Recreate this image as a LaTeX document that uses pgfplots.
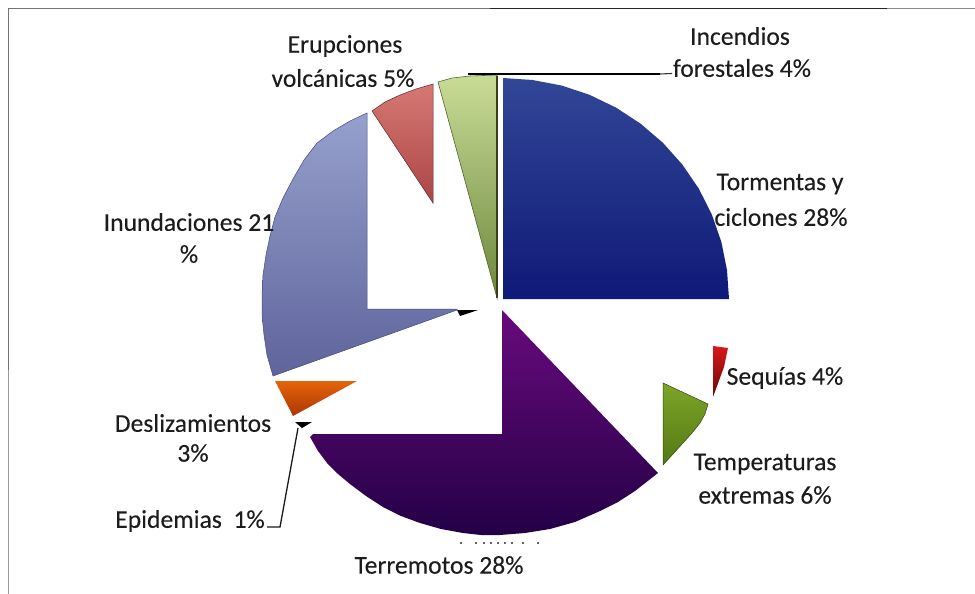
\documentclass[border=0pt]{standalone}
\usepackage{pgfplots}
\pgfplotsset{compat=1.18}
\usepackage{fontspec}
\setmainfont[FakeBold=0.15]{Carlito}
\definecolor{txt}{HTML}{1C1C1C}
\begin{document}
\begin{tikzpicture}
\useasboundingbox (0,0) rectangle (975bp,594bp);
\begin{axis}[
  at={(0,0)},anchor=south west,
  width=975bp,height=594bp,scale only axis,
  y dir=reverse,
  xmin=0,xmax=975,ymin=0,ymax=594,
  axis lines=none,
  clip=false,
]
% frame
\addplot[draw=black!55,line width=1.6bp] coordinates {(8.5,370) (8.5,8.5) (490,8.5)};
\addplot[draw=black!40,line width=0.9bp] coordinates {(8.5,370) (8.5,594)};
\addplot[draw=black!85,line width=1.2bp] coordinates {(490,8.5) (887,8.5)};
\addplot[draw=black!45,line width=1.2bp] coordinates {(887,8.5) (975,8.5)};
% Tormentas y ciclones
\addplot[draw=none,top color={rgb,255:red,50;green,70;blue,150},middle color={rgb,255:red,30;green,45;blue,135},bottom color={rgb,255:red,15;green,25;blue,120}] coordinates {
(503,78) (532.5,80) (561.5,85.5) (589.5,94.8) (616,107.6) (640.6,123.7) (662.8,142.7) (682.2,164.4) (698.7,188.5) (711.8,214.4) (721.3,241.8) (727,270.2) (729,299) (503,299)} -- cycle;
% Incendios forestales
\addplot[draw={rgb,255:red,80;green,100;blue,40},line width=0.6bp,top color={rgb,255:red,200;green,220;blue,150},middle color={rgb,255:red,165;green,190;blue,105},bottom color={rgb,255:red,110;green,135;blue,60}] coordinates {
(497,298) (438,82) (452,78) (470,76) (497,75)} -- cycle;
\addplot[draw={rgb,255:red,60;green,60;blue,30},line width=1.5bp] coordinates {(497,76) (497,298)};
% Erupciones
\addplot[draw={rgb,255:red,90;green,40;blue,40},line width=0.5bp,top color={rgb,255:red,215;green,120;blue,115},bottom color={rgb,255:red,170;green,70;blue,70}] coordinates {
(433,203) (372,111) (385,102) (400,95) (416,89) (433,84)} -- cycle;
% Inundaciones
\addplot[draw={rgb,255:red,70;green,75;blue,120},line width=0.5bp,top color={rgb,255:red,150;green,160;blue,205},bottom color={rgb,255:red,95;green,100;blue,155}] coordinates {
(367,113) (350,121) (333,131) (317,143) (304,160) (293,179) (283,198) (275,217) (270,236) (266,255) (263,275) (262,295) (262,315) (264,335) (267,355) (273,376) (457,310) (457,309) (367,309)} -- cycle;
\addplot[fill=black,draw=none] coordinates {(457,310) (478,310) (460,316)} -- cycle;
% Deslizamientos
\addplot[draw=none,top color={rgb,255:red,230;green,100;blue,10},bottom color={rgb,255:red,170;green,55;blue,5}] coordinates {
(275,381) (357,381) (293,416)} -- cycle;
% Epidemias
\addplot[fill=black,draw=none] coordinates {(295,422) (312,422) (302,428)} -- cycle;
\addplot[draw=black!90,line width=1.3bp] coordinates {(298,428) (280,527) (267,527)};
% Terremotos
\addplot[draw=none,top color={rgb,255:red,105;green,10;blue,125},middle color={rgb,255:red,65;green,5;blue,100},bottom color={rgb,255:red,35;green,0;blue,70}] coordinates {
(502,310) (502,434) (313,434) (310,437) (318,451) (327,463) (338,474) (350,484) (366,496) (383,507) (401,516) (420,523) (441,529) (463,533) (481,535) (500,535) (525,533) (550,529) (575,522) (600,511) (618,502) (635,491) (658,473)} -- cycle;
\addplot[only marks,mark=*,mark size=0.7bp,black] coordinates {(461,543) (476,543) (484,543) (491,543) (498,543) (505,543) (512,543) (523,543) (538,543)};
% Temperaturas
\addplot[draw={rgb,255:red,50;green,70;blue,10},line width=0.5bp,top color={rgb,255:red,125;green,165;blue,40},bottom color={rgb,255:red,85;green,120;blue,20}] coordinates {
(663,383) (708,404) (705,414) (700,423) (692,433) (683,443) (673,454) (663,465)} -- cycle;
% Sequias
\addplot[draw=none,top color={rgb,255:red,215;green,25;blue,25},bottom color={rgb,255:red,110;green,5;blue,5}] coordinates {
(713,346) (728,348) (724,367) (713,397)} -- cycle;
% leader
\addplot[draw=black,line width=1.8bp] coordinates {(468,74) (660,74)};
\addplot[draw=black!80,line width=1.1bp] coordinates {(660,74) (672,73.5)};
% labels
\begin{scope}[every node/.style={text=txt,font=\fontsize{25.7}{25.7}\selectfont,inner sep=0pt,anchor=center}]
\node at (axis cs:345,46) {Erupciones};
\node at (axis cs:343,78) {volcánicas 5\%};
\node at (axis cs:740,36) {Incendios};
\node at (axis cs:742,68) {forestales 4\%};
\node at (axis cs:780,184) {Tormentas y};
\node at (axis cs:781,217) {ciclones 28\%};
\node at (axis cs:189,222) {Inundaciones 21};
\node at (axis cs:189,254) {\%};
\node at (axis cs:785,378) {Sequías 4\%};
\node at (axis cs:765,464) {Temperaturas};
\node at (axis cs:765,495) {extremas 6\%};
\node at (axis cs:193,423) {Deslizamientos};
\node at (axis cs:193,453) {3\%};
\node at (axis cs:190,521) {Epidemias\ \ 1\%};
\node at (axis cs:439,565) {Terremotos 28\%};
\end{scope}
\end{axis}
\end{tikzpicture}
\end{document}
